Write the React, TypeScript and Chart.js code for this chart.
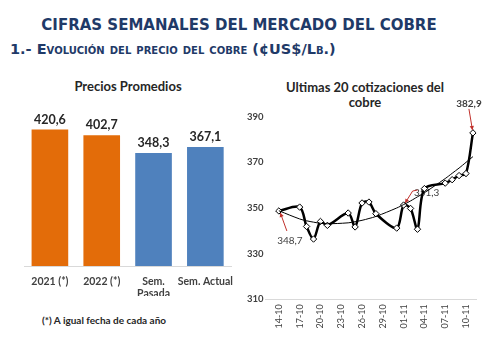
import React, { useEffect, useRef } from "react";
import { Chart, registerables } from "chart.js";

Chart.register(...registerables);

// ---------- Data: left bar chart ----------
const barCategories: string[][] = [["2021 (*)"], ["2022 (*)"], ["Sem.", "Pasada"], ["Sem. Actual"]];
const barValues = [420.6, 402.7, 348.3, 367.1];
const barColors = ["#E36C09", "#E36C09", "#4F81BD", "#4F81BD"];

// ---------- Data: right line chart ----------
const quoteDates = [
  "14-10", "17-10", "18-10", "19-10", "20-10", "21-10", "24-10", "25-10", "26-10", "27-10", "28-10",
  "31-10", "01-11", "02-11", "03-11", "04-11", "07-11", "08-11", "09-11", "10-11", "11-11",
];
const quotePrices = [
  348.7, 350.4, 341.9, 336.4, 344.1, 342.4, 347.8, 341.7, 352.2, 352.6, 347.5,
  341.2, 351.3, 349.8, 340.7, 358.5, 360.9, 362.4, 364.2, 365.1, 382.9,
];
const trendPrices = [
  348.8, 345.2, 344.4, 343.8, 343.3, 343.1, 343.5, 344.0, 344.6, 345.4, 346.3,
  350.0, 351.5, 353.1, 354.9, 356.7, 362.9, 365.2, 367.5, 370.0, 372.5,
];
const xTickDates = ["14-10", "17-10", "20-10", "23-10", "26-10", "29-10", "01-11", "04-11", "07-11", "10-11"];
const yTickValues = [310, 330, 350, 370, 390];
const annotatedIdx = [0, 12, 20];

const YEAR = 2022;
const dayOf = (s: string) => {
  const [d, m] = s.split("-").map(Number);
  const base = Date.UTC(YEAR, 9, 14);
  return Math.round((Date.UTC(YEAR, m - 1, d) - base) / 86400000);
};
const fmt = (v: number) => v.toFixed(1).replace(".", ",");

const FONT = "Lato, 'Open Sans', sans-serif";
const TXT = "#404040";
const RED = "#C0302B";

const barLabelPlugin = {
  id: "barLabels",
  afterDatasetsDraw(chart: any) {
    const ctx = chart.ctx;
    const meta = chart.getDatasetMeta(0);
    ctx.save();
    ctx.font = `bold 12.5px ${FONT}`;
    ctx.fillStyle = "#262626";
    ctx.textAlign = "center";
    ctx.textBaseline = "middle";
    meta.data.forEach((bar: any, i: number) => {
      ctx.fillText(fmt(barValues[i]), bar.x, bar.y - 10);
    });
    ctx.restore();
  },
};

function arrow(ctx: CanvasRenderingContext2D, pts: number[][]) {
  ctx.beginPath();
  ctx.moveTo(pts[0][0], pts[0][1]);
  for (let i = 1; i < pts.length; i++) ctx.lineTo(pts[i][0], pts[i][1]);
  ctx.stroke();
  const [x1, y1] = pts[pts.length - 2];
  const [x2, y2] = pts[pts.length - 1];
  const a = Math.atan2(y2 - y1, x2 - x1);
  const L = 4.5;
  ctx.beginPath();
  ctx.moveTo(x2, y2);
  ctx.lineTo(x2 - L * Math.cos(a - 0.5), y2 - L * Math.sin(a - 0.5));
  ctx.lineTo(x2 - L * Math.cos(a + 0.5), y2 - L * Math.sin(a + 0.5));
  ctx.closePath();
  ctx.fill();
}

const annotationPlugin = {
  id: "annotations",
  beforeDatasetsDraw(chart: any) {
    const ctx = chart.ctx;
    const meta = chart.getDatasetMeta(1);
    ctx.save();
    ctx.fillStyle = TXT;
    ctx.textAlign = "center";
    ctx.textBaseline = "middle";
    annotatedIdx.forEach((idx, k) => {
      const p = meta.data[idx];
      const label = fmt(quotePrices[idx]);
      if (k === 0) {
        ctx.font = `10px ${FONT}`;
        ctx.fillText(label, p.x + 11, p.y + 30);
      } else if (k === 1) {
        ctx.font = `10px ${FONT}`;
        ctx.fillText(label, p.x + 23, p.y - 12.5);
      } else {
        ctx.font = `bold 10px ${FONT}`;
        ctx.fillText(label, p.x - 4, p.y - 29.5);
      }
    });
    ctx.restore();
  },
  afterDatasetsDraw(chart: any) {
    const ctx = chart.ctx;
    const meta = chart.getDatasetMeta(1);
    ctx.save();
    ctx.strokeStyle = RED;
    ctx.fillStyle = RED;
    ctx.lineWidth = 1;
    annotatedIdx.forEach((idx, k) => {
      const p = meta.data[idx];
      if (k === 0) {
        arrow(ctx, [[p.x + 8, p.y + 20], [p.x + 1.5, p.y + 2]]);
      } else if (k === 1) {
        arrow(ctx, [[p.x + 14, p.y - 15], [p.x + 9, p.y - 14], [p.x + 1.5, p.y - 2]]);
      } else {
        arrow(ctx, [[p.x - 4, p.y - 24], [p.x - 0.5, p.y - 3]]);
      }
    });
    ctx.restore();
  },
};

export default function App() {
  const barRef = useRef<HTMLCanvasElement>(null);
  const lineRef = useRef<HTMLCanvasElement>(null);

  useEffect(() => {
    const barChart = new Chart(barRef.current!, {
      type: "bar",
      data: {
        labels: barCategories,
        datasets: [
          {
            data: barValues,
            backgroundColor: barColors,
            borderWidth: 0,
            barPercentage: 0.707,
            categoryPercentage: 1,
          },
        ],
      },
      options: {
        animation: false,
        responsive: false,
        layout: { padding: { top: 50, left: 24, right: 8.5, bottom: 45 } },
        plugins: { legend: { display: false }, tooltip: { enabled: false } },
        scales: {
          x: {
            grid: { display: false, drawTicks: false },
            border: { display: true, color: "#D9D9D9" },
            ticks: {
              color: TXT,
              padding: 10,
              font: { family: FONT, size: 10.5, weight: "bold", lineHeight: 1.1 },
              maxRotation: 0,
              autoSkip: false,
            },
            afterFit: (s: any) => {
              s.height = 30;
            },
          },
          y: { display: false, min: 0, max: 450 },
        },
      },
      plugins: [barLabelPlugin],
    } as any);

    const days = quoteDates.map(dayOf);
    const xTickDays = xTickDates.map(dayOf);

    const lineChart = new Chart(lineRef.current!, {
      type: "line",
      data: {
        datasets: [
          {
            data: days.map((d, i) => ({ x: d, y: trendPrices[i] })),
            borderColor: "#000",
            borderWidth: 1,
            pointRadius: 0,
            tension: 0.4,
          },
          {
            data: days.map((d, i) => ({ x: d, y: quotePrices[i] })),
            borderColor: "#000",
            borderWidth: 2.5,
            pointStyle: "rectRot",
            pointRadius: 3.2,
            pointBackgroundColor: "#fff",
            pointBorderColor: "#000",
            pointBorderWidth: 1,
            tension: 0.3,
          },
        ],
      },
      options: {
        animation: false,
        responsive: false,
        layout: { padding: { top: 46.7, left: 0, right: 22.6, bottom: 11.7 } },
        plugins: { legend: { display: false }, tooltip: { enabled: false } },
        scales: {
          x: {
            type: "linear",
            min: -2,
            max: 28.5,
            grid: { display: false, drawTicks: false },
            border: { display: true, color: "#D9D9D9" },
            afterBuildTicks: (s: any) => {
              s.ticks = xTickDays.map((v) => ({ value: v }));
            },
            ticks: {
              autoSkip: false,
              minRotation: 90,
              maxRotation: 90,
              padding: 5,
              color: TXT,
              font: { family: FONT, size: 9 },
              callback: (v: any) => {
                const i = xTickDays.indexOf(Number(v));
                return i >= 0 ? xTickDates[i] : "";
              },
            },
            afterFit: (s: any) => {
              s.height = 30;
            },
          },
          y: {
            min: 310,
            max: 390,
            grid: { display: false, drawTicks: false },
            border: { display: false },
            afterBuildTicks: (s: any) => {
              s.ticks = yTickValues.map((v) => ({ value: v }));
            },
            ticks: {
              padding: 1.5,
              color: TXT,
              font: { family: FONT, size: 9.5, weight: "bold" },
            },
            afterFit: (s: any) => {
              s.width = 21;
            },
          },
        },
      },
      plugins: [annotationPlugin],
    } as any);

    return () => {
      barChart.destroy();
      lineChart.destroy();
    };
  }, []);

  const titleColor = "#1F3A68";
  return (
    <div style={{ position: "absolute", left: 0, top: 0, width: 499, height: 341, background: "#fff", overflow: "hidden" }}>
      <div
        style={{
          position: "absolute", left: 0, width: 478, top: 15, textAlign: "center",
          fontFamily: "'DejaVu Sans', Verdana, sans-serif", fontWeight: "bold", fontSize: 15,
          color: titleColor, whiteSpace: "nowrap", lineHeight: "20px",
        }}
      >
        CIFRAS SEMANALES DEL MERCADO DEL COBRE
      </div>
      <div
        style={{
          position: "absolute", left: 10, top: 40, fontFamily: "'DejaVu Sans', Verdana, sans-serif",
          fontWeight: "bold", fontSize: 14.5, fontVariant: "small-caps", color: titleColor,
          whiteSpace: "nowrap", lineHeight: "19px",
        }}
      >
        1.- Evolución del precio del cobre (¢US$/Lb.)
      </div>
      <div
        style={{
          position: "absolute", left: 28, width: 200, top: 78, textAlign: "center", fontFamily: FONT,
          fontWeight: "bold", fontSize: 13, color: "#262626", lineHeight: "17px",
        }}
      >
        Precios Promedios
      </div>
      <div
        style={{
          position: "absolute", left: 265, width: 200, top: 80, textAlign: "center", fontFamily: FONT,
          fontWeight: "bold", fontSize: 13, color: "#262626", lineHeight: "15px",
        }}
      >
        Ultimas 20 cotizaciones del
        <br />
        cobre
      </div>
      <div
        style={{
          position: "absolute", left: 42, top: 313, fontFamily: FONT, fontWeight: "bold",
          fontSize: 10, color: "#262626", whiteSpace: "nowrap", lineHeight: "14px",
        }}
      >
        (*) A igual fecha de cada año
      </div>
      <canvas ref={barRef} width={244} height={271} style={{ position: "absolute", left: 0, top: 70, width: 244, height: 271 }} />
      <canvas ref={lineRef} width={255} height={271} style={{ position: "absolute", left: 244, top: 70, width: 255, height: 271 }} />
    </div>
  );
}
